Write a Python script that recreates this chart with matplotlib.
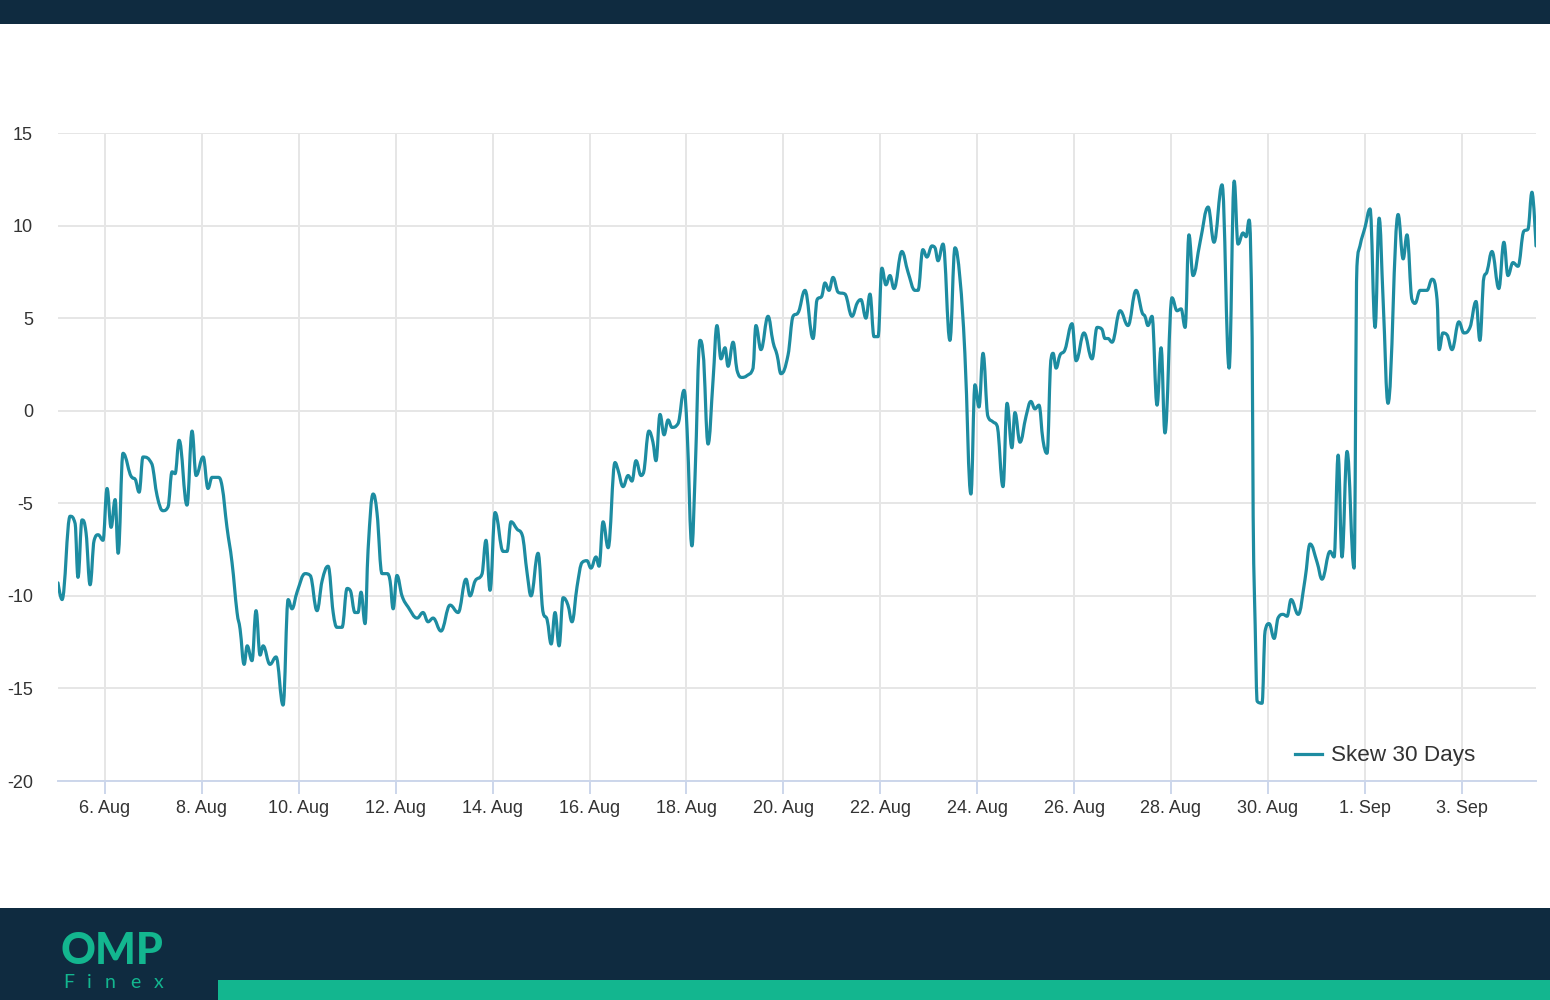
import numpy as np
import pandas as pd
import matplotlib
matplotlib.use("Agg")
import matplotlib.pyplot as plt
import matplotlib.dates as mdates
from matplotlib.path import Path
from matplotlib.patches import PathPatch, Rectangle
from matplotlib.lines import Line2D

# ---------------- data (hours since 5 Aug 00:00, skew value) ----------------
hours = [0.7, 2.7, 6.7, 9.2, 10.6, 12.6, 14.6, 16.6, 18.6, 20.6, 23.0, 25.0, 27.0, 29.0, 30.5,
         32.9, 37.4, 38.9, 40.9, 42.8, 47.3, 49.8, 52.7, 55.2, 57.2, 58.7, 60.7, 64.6, 67.1,
         69.1, 72.6, 75.0, 77.0, 80.0, 82.0, 84.4, 86.9, 89.4, 90.9, 92.9, 94.4, 96.8, 98.8,
         100.8, 102.3, 105.7, 108.7, 112.2, 114.7, 116.6, 119.1, 123.1, 125.6, 129.0, 131.5,
         134.5, 137.0, 138.9, 141.4, 143.9, 145.4, 147.8, 149.3, 150.8, 152.8, 154.3, 156.8,
         158.7, 161.2, 163.7, 165.2, 166.7, 168.6, 171.1, 174.1, 178.6, 181.5, 184.0, 186.5,
         190.4, 194.9, 198.9, 202.8, 204.8, 207.3, 210.8, 212.7, 214.7, 217.2, 221.2, 223.1,
         225.1, 228.1, 230.6, 233.1, 235.0, 238.5, 241.0, 243.0, 245.0, 246.9, 248.9, 250.9,
         253.3, 255.3, 257.8, 260.3, 262.7, 264.7, 267.2, 268.7, 270.7, 273.2, 276.6, 278.1,
         280.6, 283.1, 285.0, 287.0, 289.5, 290.5, 293.4, 295.4, 296.9, 298.9, 300.9, 302.9,
         304.8, 307.8, 310.8, 312.3, 314.7, 316.2, 318.7, 320.2, 322.7, 325.2, 327.1, 329.1,
         331.1, 332.6, 335.1, 337.0, 339.5, 342.0, 345.0, 346.4, 348.9, 352.4, 354.9, 356.9,
         358.8, 362.3, 364.8, 367.3, 370.7, 374.7, 376.7, 379.1, 380.6, 382.6, 384.6, 387.1,
         390.5, 394.0, 396.5, 398.4, 400.9, 402.9, 404.9, 406.9, 408.8, 410.8, 412.8, 414.8,
         418.7, 421.7, 425.2, 426.7, 429.1, 431.1, 433.6, 435.1, 436.6, 439.1, 442.5, 445.0,
         447.5, 449.9, 452.9, 454.9, 456.9, 458.9, 461.3, 463.8, 465.8, 468.8, 470.8, 473.2,
         474.7, 477.2, 480.2, 482.6, 484.6, 486.6, 488.6, 490.6, 492.6, 493.6, 495.1, 497.0,
         499.5, 503.0, 505.0, 508.9, 512.9, 515.4, 517.8, 519.3, 520.8, 522.8, 526.8, 530.7,
         534.7, 537.7, 539.1, 540.6, 542.6, 545.1, 547.1, 549.0, 552.5, 555.0, 557.0, 559.0,
         560.9, 562.9, 566.4, 570.4, 573.3, 577.3, 580.8, 583.3, 585.2, 587.7, 589.2, 590.7,
         592.2, 592.7, 593.7, 594.7, 597.1, 598.6, 600.6, 603.1, 605.0, 607.5, 609.5, 611.5,
         615.0, 618.4, 620.9, 624.4, 626.8, 630.8, 632.8, 634.8, 636.7, 639.2, 642.7, 644.1,
         645.6, 648.1, 650.6, 653.1, 655.1, 657.1, 659.5, 664.5, 667.0, 668.9, 671.4, 672.9,
         675.4, 678.8, 681.3, 683.8, 684.8, 686.7, 688.7, 691.2, 694.6, 697.1, 700.1, 703.1,
         705.0, 707.0, 708.5, 711.0, 714.4, 716.9, 718.9, 721.4, 723.9, 726.8, 728.8, 730.8,
         732.8]
skew = [-9.3, -10.2, -5.7, -6.1, -9.0, -5.9, -6.6, -9.4, -7.0, -6.7, -7.0, -4.2, -6.3, -4.8, -7.7,
        -2.3, -3.6, -3.7, -4.4, -2.5, -2.9, -4.6, -5.4, -5.2, -3.3, -3.4, -1.6, -5.1, -1.1,
        -3.5, -2.5, -4.2, -3.6, -3.6, -4.1, -6.3, -8.2, -10.9, -11.8, -13.7, -12.7, -13.5, -10.8,
        -13.2, -12.7, -13.7, -13.3, -15.9, -10.2, -10.7, -9.8, -8.8, -8.9, -10.8, -9.2,
        -8.4, -10.9, -11.7, -11.7, -9.6, -9.7, -10.9, -10.9, -9.8, -11.5, -7.5, -4.5,
        -5.5, -8.8, -8.8, -9.2, -10.7, -8.9, -10.0, -10.6, -11.2, -10.9, -11.4, -11.2,
        -11.9, -10.5, -10.9, -9.1, -10.0, -9.2, -8.8, -7.0, -9.7, -5.5, -7.6, -7.6,
        -6.0, -6.4, -6.7, -8.8, -10.0, -7.7, -10.9, -11.3, -12.6, -10.9, -12.7, -10.1,
        -10.5, -11.4, -9.5, -8.2, -8.1, -8.5, -7.9, -8.4, -6.0, -7.4, -2.8, -3.2,
        -4.1, -3.5, -3.8, -2.7, -3.5, -3.4, -1.1, -1.7, -2.7, -0.2, -1.3, -0.5,
        -0.9, -0.7, 1.1, -1.0, -7.3, -3.7, 3.8, 3.1, -1.8, 1.7, 4.6, 2.8,
        3.4, 2.4, 3.7, 2.2, 1.8, 1.9, 2.3, 4.6, 3.3, 5.1, 3.7, 3.0,
        2.0, 3.0, 5.1, 5.3, 6.5, 3.9, 6.0, 6.2, 6.9, 6.5, 7.2, 6.4,
        6.3, 5.1, 5.8, 6.0, 5.0, 6.3, 4.0, 4.0, 7.7, 6.8, 7.3, 6.6,
        8.6, 7.5, 6.5, 6.5, 8.7, 8.3, 8.9, 8.8, 8.1, 9.0, 3.8, 8.8,
        7.1, 3.1, -4.5, 1.4, 0.2, 3.1, -0.3, -0.6, -0.8, -4.1, 0.4, -2.0,
        -0.1, -1.7, -0.3, 0.5, 0.1, 0.3, -1.6, -2.3, 2.8, 3.1, 2.3, 3.0,
        3.3, 4.7, 2.7, 4.2, 2.8, 4.5, 4.4, 3.9, 3.9, 3.7, 5.4, 4.6,
        6.5, 5.3, 5.1, 4.6, 5.1, 0.3, 3.4, -1.2, 6.1, 5.4, 5.5, 4.5,
        9.5, 7.3, 9.1, 11.0, 9.1, 12.2, 2.3, 12.4, 9.0, 9.6, 9.4, 10.3,
        3.9, -5.7, -11.6, -15.7, -15.8, -11.9, -11.5, -12.3, -11.2, -11.0, -11.1, -10.2,
        -11.0, -9.1, -7.2, -8.2, -9.1, -7.6, -7.9, -2.4, -7.9, -2.2, -8.5, 7.8,
        8.9, 9.9, 10.9, 4.5, 10.4, 5.9, 0.4, 10.6, 8.2, 9.5, 6.0, 5.8,
        6.5, 6.5, 7.1, 6.0, 3.3, 4.2, 4.1, 3.3, 4.8, 4.2, 4.5, 5.9,
        3.8, 7.2, 7.5, 8.6, 6.6, 9.1, 7.3, 8.0, 7.8, 9.7, 9.8, 11.8,
        8.9]

start_date = "2023-08-05"
tick_dates = ["2023-08-06", "2023-08-08", "2023-08-10", "2023-08-12", "2023-08-14",
              "2023-08-16", "2023-08-18", "2023-08-20", "2023-08-22", "2023-08-24",
              "2023-08-26", "2023-08-28", "2023-08-30", "2023-09-01", "2023-09-03"]
y_ticks = [-20, -15, -10, -5, 0, 5, 10, 15]
series_name = "Skew 30 Days"

# ---------------- styles ----------------
NAVY = "#0f2b40"
GREEN = "#13b68f"
LINE = "#1d8ca1"
GRID = "#e6e6e6"
AXIS = "#ccd6eb"
TXT = "#333333"
FONT = ["Liberation Sans", "DejaVu Sans"]
plt.rcParams["font.family"] = FONT

W, H = 1550, 1000
fig = plt.figure(figsize=(W / 100, H / 100), dpi=100)
fig.patch.set_facecolor("white")

L, R, T, B = 58, 1536, 133, 781
ax = fig.add_axes([L / W, 1 - B / H, (R - L) / W, (B - T) / H])
ax.set_facecolor("white")

times = pd.Timestamp(start_date) + pd.to_timedelta(hours, unit="h")
xs = mdates.date2num(times.to_pydatetime())
ys = np.asarray(skew, dtype=float)


def spline_path(x, y, smooth=1.5):
    n = len(x)
    lc = np.zeros((n, 2))
    rc = np.zeros((n, 2))
    lc[0] = rc[0] = (x[0], y[0])
    lc[-1] = rc[-1] = (x[-1], y[-1])
    d = smooth + 1
    for i in range(1, n - 1):
        px, py = x[i], y[i]
        lx, ly = x[i - 1], y[i - 1]
        nx, ny = x[i + 1], y[i + 1]
        lcx = (smooth * px + lx) / d
        lcy = (smooth * py + ly) / d
        rcx = (smooth * px + nx) / d
        rcy = (smooth * py + ny) / d
        if rcx != lcx:
            corr = ((rcy - lcy) * (rcx - px)) / (rcx - lcx) + py - rcy
            lcy += corr
            rcy += corr
        if lcy > ly and lcy > py:
            lcy = max(ly, py)
            rcy = 2 * py - lcy
        elif lcy < ly and lcy < py:
            lcy = min(ly, py)
            rcy = 2 * py - lcy
        if rcy > ny and rcy > py:
            rcy = max(ny, py)
            lcy = 2 * py - rcy
        elif rcy < ny and rcy < py:
            rcy = min(ny, py)
            lcy = 2 * py - rcy
        lc[i] = (lcx, lcy)
        rc[i] = (rcx, rcy)
    verts = [(x[0], y[0])]
    codes = [Path.MOVETO]
    for i in range(1, n):
        verts += [tuple(rc[i - 1]), tuple(lc[i]), (x[i], y[i])]
        codes += [Path.CURVE4] * 3
    return Path(verts, codes)


patch = PathPatch(spline_path(xs, ys), facecolor="none", edgecolor=LINE, lw=2.3,
                  capstyle="round", joinstyle="round", zorder=3)
ax.add_patch(patch)

ax.set_xlim(xs[0], xs[-1])
ax.set_ylim(-20, 15)

tick_nums = mdates.date2num(pd.to_datetime(tick_dates).to_pydatetime())
ax.set_xticks(tick_nums)
ax.set_xticklabels([f"{d.day}. {d.strftime('%b')}" for d in pd.to_datetime(tick_dates)])
ax.set_yticks(y_ticks)
ax.set_yticklabels([str(v) for v in y_ticks])

ax.grid(True, color=GRID, lw=1.4, zorder=0)
ax.set_axisbelow(True)
for s in ["top", "right", "left"]:
    ax.spines[s].set_visible(False)
ax.spines["bottom"].set_color(AXIS)
ax.spines["bottom"].set_linewidth(1.4)
ax.tick_params(axis="x", length=9, width=1.4, color=AXIS, labelsize=13, labelcolor=TXT, pad=5)
ax.tick_params(axis="y", length=0, labelsize=13, labelcolor=TXT, pad=18)

handle = Line2D([0], [0], color=LINE, lw=2.3)
fig.legend([handle], [series_name], loc="center right", bbox_to_anchor=(1475 / W, 1 - 756 / H),
           frameon=False, fontsize=16.2, handlelength=1.2, handletextpad=0.4,
           labelcolor=TXT, borderpad=0, borderaxespad=0)

# ---------------- decorations: header / footer bands and logo ----------------
fig.add_artist(Rectangle((0, 1 - 24 / H), 1, 24 / H, transform=fig.transFigure,
                         facecolor=NAVY, edgecolor="none", zorder=0))
fig.add_artist(Rectangle((0, 0), 1, 92 / H, transform=fig.transFigure,
                         facecolor=NAVY, edgecolor="none", zorder=0))
fig.add_artist(Rectangle((218 / W, 0), 1 - 218 / W, 20 / H, transform=fig.transFigure,
                         facecolor=GREEN, edgecolor="none", zorder=1))

fig.text(61 / W, 1 - 964 / H, "OMP", color=GREEN, fontsize=31, fontweight="black",
         family=["Lato", "DejaVu Sans"], va="baseline", ha="left", zorder=5)
for ch, px in zip("Finex", [63, 87, 105, 130, 154]):
    fig.text(px / W, 1 - 988 / H, ch, color=GREEN, fontsize=14, fontweight="normal",
             family=["Lato", "DejaVu Sans"], va="baseline", ha="left", zorder=5)

fig.savefig("out.png", dpi=100, facecolor=fig.get_facecolor())
